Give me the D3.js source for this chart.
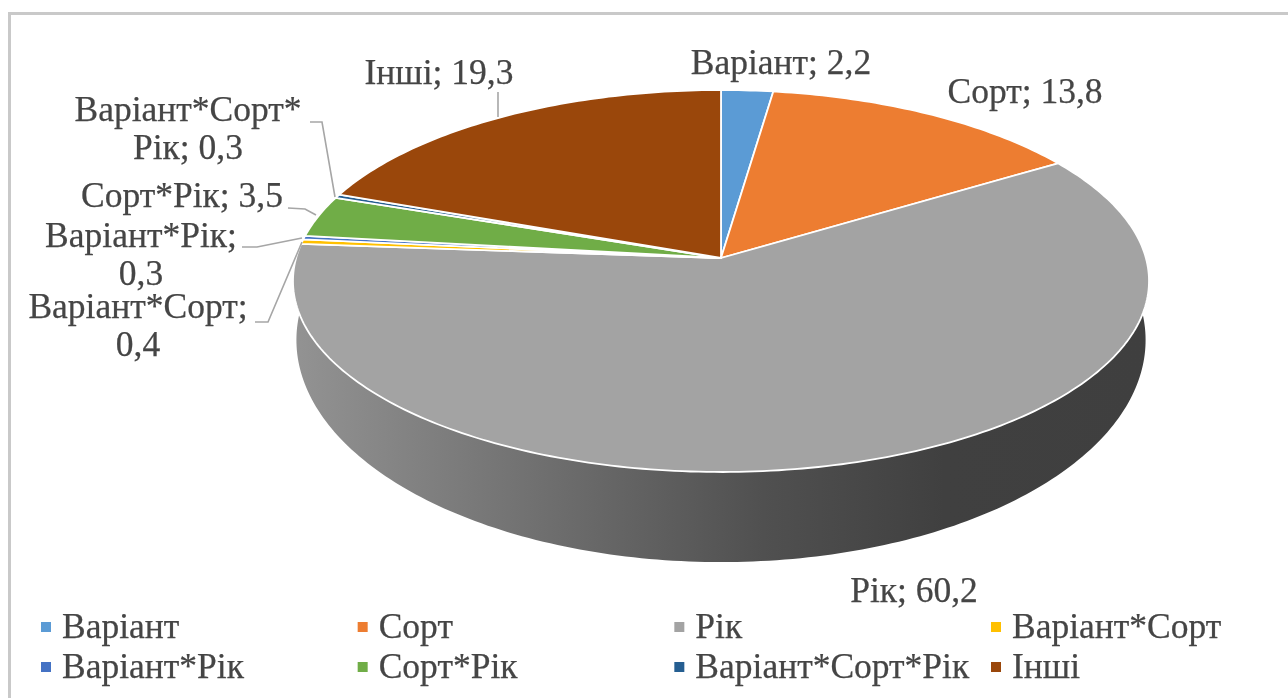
<!DOCTYPE html>
<html>
<head>
<meta charset="utf-8">
<script src="https://d3js.org/d3.v7.min.js"></script>
<style>
  html, body { margin: 0; padding: 0; background: #fff; }
  svg { display: block; }
  text { font-family: "Liberation Serif", serif; fill: #454545; stroke: #454545; stroke-width: 0.25px; }
</style>
</head>
<body>
<script>
// Chart values
const categories = ["Варіант", "Сорт", "Рік", "Варіант*Сорт", "Варіант*Рік", "Сорт*Рік", "Варіант*Сорт*Рік", "Інші"];
const values = [2.2, 13.8, 60.2, 0.4, 0.3, 3.5, 0.3, 19.3];
const colors = ["#5b9bd5", "#ed7d31", "#a3a3a3", "#ffc000", "#4472c4", "#70ad47", "#255e91", "#9a470b"];

// Label wrapping, one array of lines for each slice
const labelLines = [
  ["Варіант; 2,2"],
  ["Сорт; 13,8"],
  ["Рік; 60,2"],
  ["Варіант*Сорт;", "0,4"],
  ["Варіант*Рік;", "0,3"],
  ["Сорт*Рік; 3,5"],
  ["Варіант*Сорт*", "Рік; 0,3"],
  ["Інші; 19,3"]
];
// Where each label sits (centre x, first baseline y)
const labelSpots = [[781, 74], [1025, 103], [914, 602], [138, 318], [141, 247], [182, 207], [188, 121], [439, 84]];
// Leader lines, only for the labels that have one
const leaders = [
  null, null, null,
  [[255, 322], [268, 322], [302, 242]],
  [[242, 247], [257, 247], [302, 238]],
  [[288, 208], [305, 209], [316, 215]],
  [[310, 122], [322, 122], [335, 197]],
  [[498, 92], [498, 117]]
];

const width = 1288;
const height = 698;
const fontSize = 35.5;

// Perspective of the pie: pTop is the lit face, pBase the hidden bottom face
const tilt = 0.1205;
const pTop = { cx: 721, cy: 258, a: 424.9, b: 188.2 };
const pBase = { cx: 721, cy: 313.3, a: 421.5, b: 218.8 };

function project(p, angle) {
  const u = Math.sin(angle);
  const v = -Math.cos(angle);
  const w = 1 - tilt * v;
  return [p.cx + (p.a * u) / w, p.cy + (p.b * v) / w];
}

const svg = d3
  .select("body")
  .append("svg")
  .attr("width", width)
  .attr("height", height)
  .style("filter", "blur(0.7px)");

// Frame, only the top and left edges are in the picture
svg.append("path")
  .attr("d", "M9.5,698V13.5H1288")
  .attr("fill", "none")
  .attr("stroke", "#c9c9c9")
  .attr("stroke-width", 3);

// Side wall
const defs = svg.append("defs");
const wallGrad = defs.append("linearGradient")
  .attr("id", "wall")
  .attr("gradientUnits", "userSpaceOnUse")
  .attr("x1", 293).attr("x2", 1149).attr("y1", 0).attr("y2", 0);
[[0, "#939393"], [0.3, "#6e6e6e"], [0.55, "#505050"], [0.76, "#404040"], [1, "#3f3f3f"]].forEach((s) => {
  wallGrad.append("stop").attr("offset", s[0]).attr("stop-color", s[1]);
});

const wallAngle = Math.PI / 2 - 0.1;
const line = d3.line();
const wallPts = d3.range(0, 201).map((i) => project(pBase, wallAngle + ((Math.PI + 0.2) * i) / 200));
const topPts = d3.range(0, 201).map((i) => project(pTop, wallAngle + Math.PI + 0.2 - ((Math.PI + 0.2) * i) / 200));
svg.append("path")
  .attr("d", line(wallPts.concat(topPts)) + "Z")
  .attr("fill", "url(#wall)");

// Slices
const arcs = d3.pie().sort(null).value((d) => d)(values);

function slicePath(d) {
  const n = Math.max(2, Math.ceil((d.endAngle - d.startAngle) * 60));
  const pts = d3.range(0, n + 1).map((i) => project(pTop, d.startAngle + ((d.endAngle - d.startAngle) * i) / n));
  return line([[pTop.cx, pTop.cy]].concat(pts)) + "Z";
}

svg.append("g")
  .selectAll("path")
  .data(arcs)
  .join("path")
  .attr("d", slicePath)
  .attr("fill", (d, i) => colors[i])
  .attr("stroke", "#fff")
  .attr("stroke-width", 1.8)
  .attr("stroke-linejoin", "round");

// Leader lines
svg.append("g")
  .selectAll("path")
  .data(leaders.filter((d) => d))
  .join("path")
  .attr("d", (d) => line(d))
  .attr("fill", "none")
  .attr("stroke", "#a6a6a6")
  .attr("stroke-width", 1.6);

// Data labels
const labels = svg.append("g")
  .selectAll("text")
  .data(labelLines)
  .join("text")
  .attr("font-size", fontSize)
  .attr("text-anchor", "middle")
  .attr("x", (d, i) => labelSpots[i][0])
  .attr("y", (d, i) => labelSpots[i][1]);

labels.selectAll("tspan")
  .data((d, i) => d.map((t) => ({ t, x: labelSpots[i][0] })))
  .join("tspan")
  .attr("x", (d) => d.x)
  .attr("dy", (d, i) => (i === 0 ? 0 : 38))
  .text((d) => d.t);

// Legend, 4 columns by 2 rows
const legendX = d3.scaleLinear().domain([0, 3]).range([62, 1012]);
const legendY = d3.scaleLinear().domain([0, 1]).range([638, 678]);

const legend = svg.append("g")
  .selectAll("g")
  .data(categories)
  .join("g")
  .attr("transform", (d, i) => `translate(${legendX(i % 4)},${legendY(Math.floor(i / 4))})`);

legend.append("rect")
  .attr("x", -21)
  .attr("y", -16)
  .attr("width", 10)
  .attr("height", 10)
  .attr("fill", (d, i) => colors[i]);

legend.append("text")
  .attr("font-size", fontSize)
  .text((d) => d);
</script>
</body>
</html>
